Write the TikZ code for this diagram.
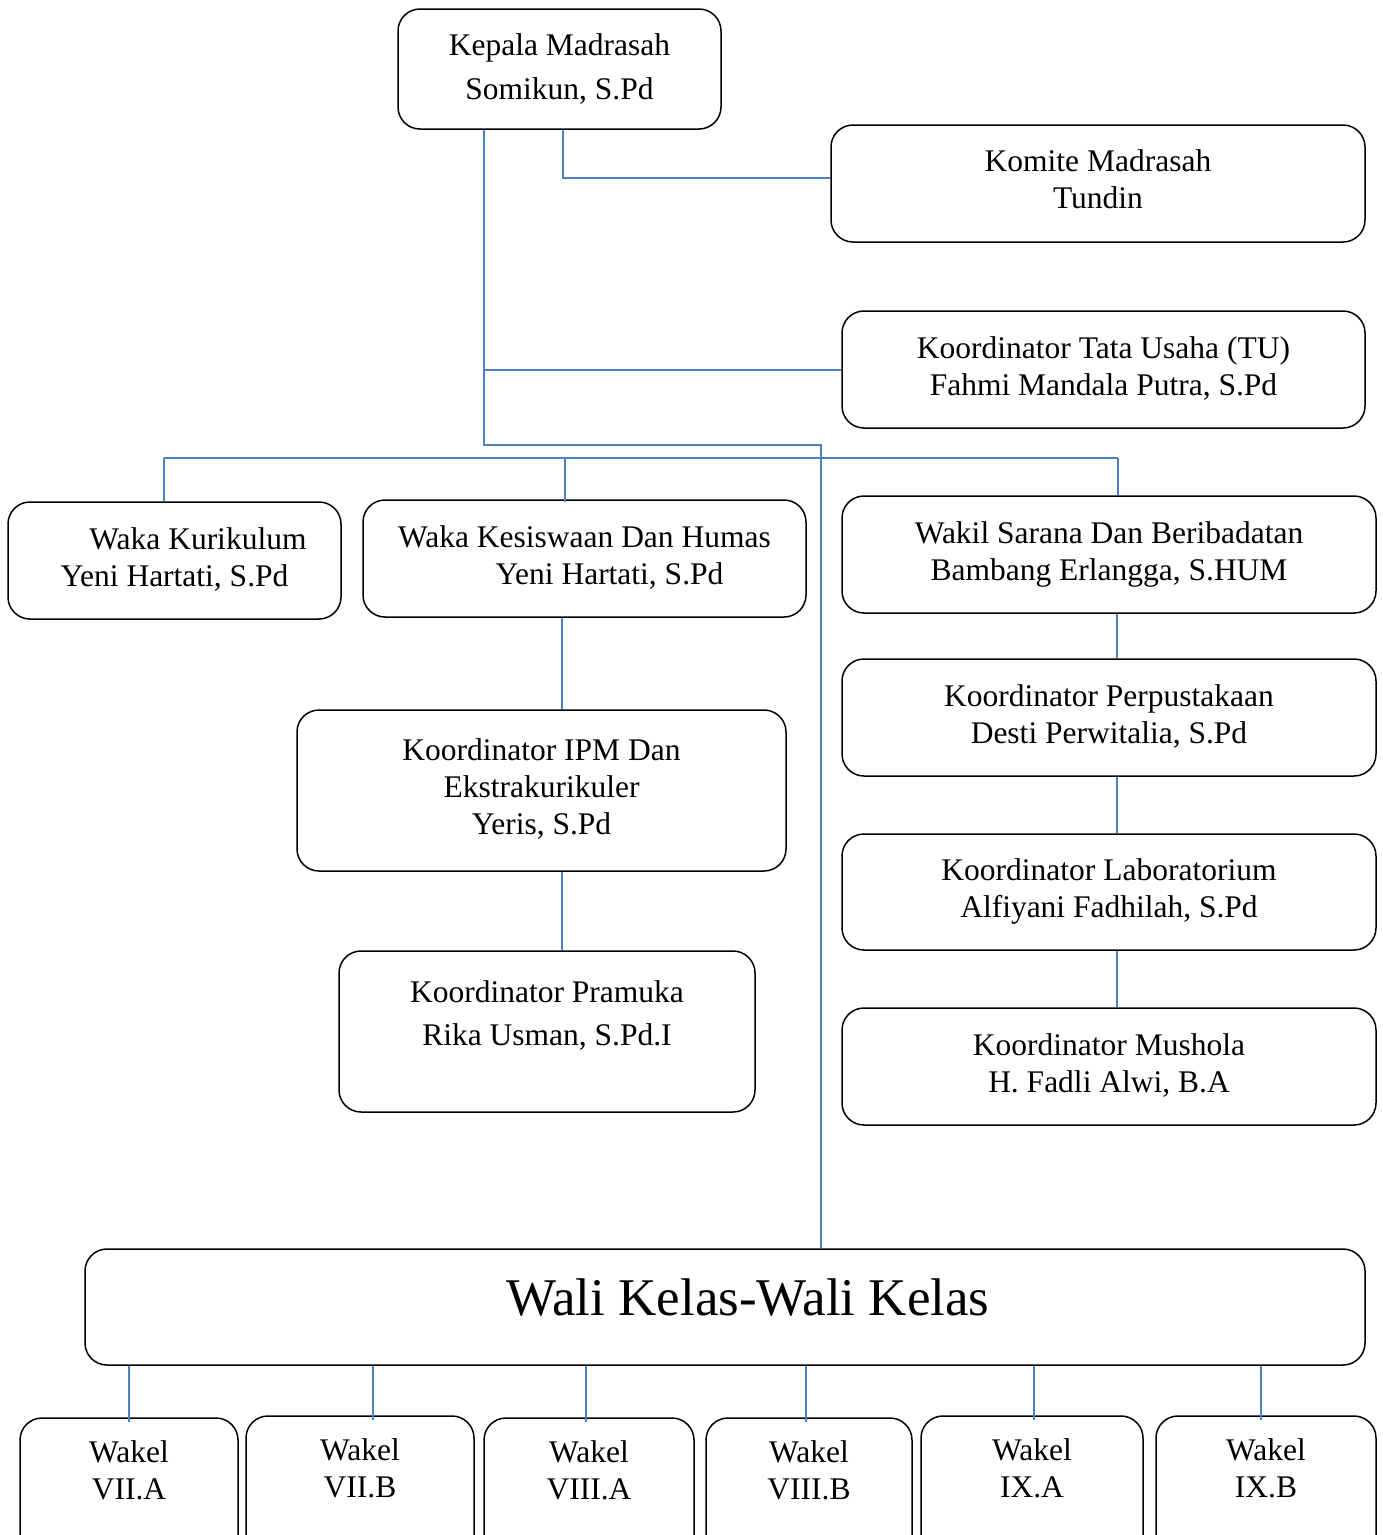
\documentclass[tikz,border=0pt]{standalone}
\usepackage{fontspec}
\setmainfont{Liberation Serif}
\usepackage{xcolor}
\usepackage{tikz}
\usetikzlibrary{shapes.geometric}
\definecolor{orgblue}{HTML}{4F81BD}
\tikzstyle{box} = [draw=black, line width=1.5pt, rounded corners=22pt, align=center, inner sep=0pt, font=\fontsize{31.5}{37}\selectfont]
\tikzstyle{link} = [draw=orgblue, line width=2pt]

\begin{document}
\begin{tikzpicture}[x=1pt,y=-1pt]
\useasboundingbox[fill=white] (0,0) rectangle (1383,1535);

\node[box, minimum width=323pt, minimum height=120pt] (kepala) at (559.5,69) {Kepala Madrasah\\[7pt]Somikun, S.Pd};
\node[box, minimum width=534pt, minimum height=117pt] (komite) at (1098,183.5) {Komite Madrasah\\Tundin\\[-28pt]\mbox{}};
\node[box, minimum width=523pt, minimum height=117pt] (tu) at (1103.5,369.5) {Koordinator Tata Usaha (TU)\\Fahmi Mandala Putra, S.Pd\\[-30pt]\mbox{}};

\node[box, minimum width=333pt, minimum height=117pt] (kurikulum) at (174.5,560.5) {\hspace*{47pt}Waka Kurikulum\\Yeni Hartati, S.Pd\\[-30pt]\mbox{}};
\node[box, minimum width=443pt, minimum height=117pt] (kesiswaan) at (584.5,558.5) {Waka Kesiswaan Dan Humas\\\hspace*{50pt}Yeni Hartati, S.Pd\\[-30pt]\mbox{}};
\node[box, minimum width=489pt, minimum height=161pt] (ipm) at (541.5,790.5) {Koordinator IPM Dan\\Ekstrakurikuler\\Yeris, S.Pd\\[-30pt]\mbox{}};
\node[box, minimum width=416pt, minimum height=161pt] (pramuka) at (547,1031.5) {Koordinator Pramuka\\[6pt]Rika Usman, S.Pd.I\\\mbox{}};

\node[box, minimum width=534pt, minimum height=117pt] (sarana) at (1109,554.5) {Wakil Sarana Dan Beribadatan\\Bambang Erlangga, S.HUM\\[-30pt]\mbox{}};
\node[box, minimum width=534pt, minimum height=117pt] (perpus) at (1109,717.5) {Koordinator Perpustakaan\\Desti Perwitalia, S.Pd\\[-30pt]\mbox{}};
\node[box, minimum width=534pt, minimum height=116pt] (lab) at (1109,892) {Koordinator Laboratorium\\Alfiyani Fadhilah, S.Pd\\[-30pt]\mbox{}};
\node[box, minimum width=534pt, minimum height=117pt] (mushola) at (1109,1066.5) {Koordinator Mushola\\H. Fadli Alwi, B.A\\[-30pt]\mbox{}};

\node[box, minimum width=1280pt, minimum height=116pt, font=\fontsize{53}{60}\selectfont] (walikelas) at (725,1307) {\hspace*{46pt}Wali Kelas-Wali Kelas\\[-40pt]\mbox{}};

\node[box, minimum width=218pt, minimum height=142pt] (w1) at (129,1489) {Wakel\\VII.A\\\mbox{}};
\node[box, minimum width=228pt, minimum height=142pt] (w2) at (360,1487) {Wakel\\VII.B\\\mbox{}};
\node[box, minimum width=210pt, minimum height=142pt] (w3) at (589,1489) {Wakel\\VIII.A\\\mbox{}};
\node[box, minimum width=206pt, minimum height=142pt] (w4) at (809,1489) {Wakel\\VIII.B\\\mbox{}};
\node[box, minimum width=222pt, minimum height=142pt] (w5) at (1032,1487) {Wakel\\IX.A\\\mbox{}};
\node[box, minimum width=220pt, minimum height=142pt] (w6) at (1266,1487) {Wakel\\IX.B\\\mbox{}};

% junction points
\coordinate (t1) at (484,445);
\coordinate (t2) at (821,445);
\coordinate (tujoin) at (484,370);
\coordinate (k1) at (563,178);
\coordinate (busL) at (164,458);
\coordinate (busM) at (565,458);
\coordinate (busR) at (1118,458);
\coordinate (sub) at (561.5,0);
\coordinate (rc) at (1116.5,0);

\draw[link] (kepala.south -| t1) |- (t2) -- (t2 |- walikelas.north);
\draw[link] (tujoin) -- (tu.west |- tujoin);
\draw[link] (kepala.south -| k1) |- (komite.west |- k1);

\draw[link] (busL) -- (busR);
\draw[link] (busL) -- (busL |- kurikulum.north);
\draw[link] (busM) -- ([yshift=-3pt]busM |- kesiswaan.north);
\draw[link] (busR) -- (busR |- sarana.north);

\draw[link] (kesiswaan.south -| sub) -- (ipm.north -| sub);
\draw[link] (ipm.south -| sub) -- (pramuka.north -| sub);

\draw[link] (sarana.south -| rc) -- (perpus.north -| rc);
\draw[link] (perpus.south -| rc) -- (lab.north -| rc);
\draw[link] (lab.south -| rc) -- (mushola.north -| rc);

\foreach \n/\x in {w1/129, w2/373, w3/586, w4/806, w5/1034, w6/1261}
  \draw[link, shorten >=-5pt] (walikelas.south -| \x,0) -- (\n.north -| \x,0);
\end{tikzpicture}
\end{document}
